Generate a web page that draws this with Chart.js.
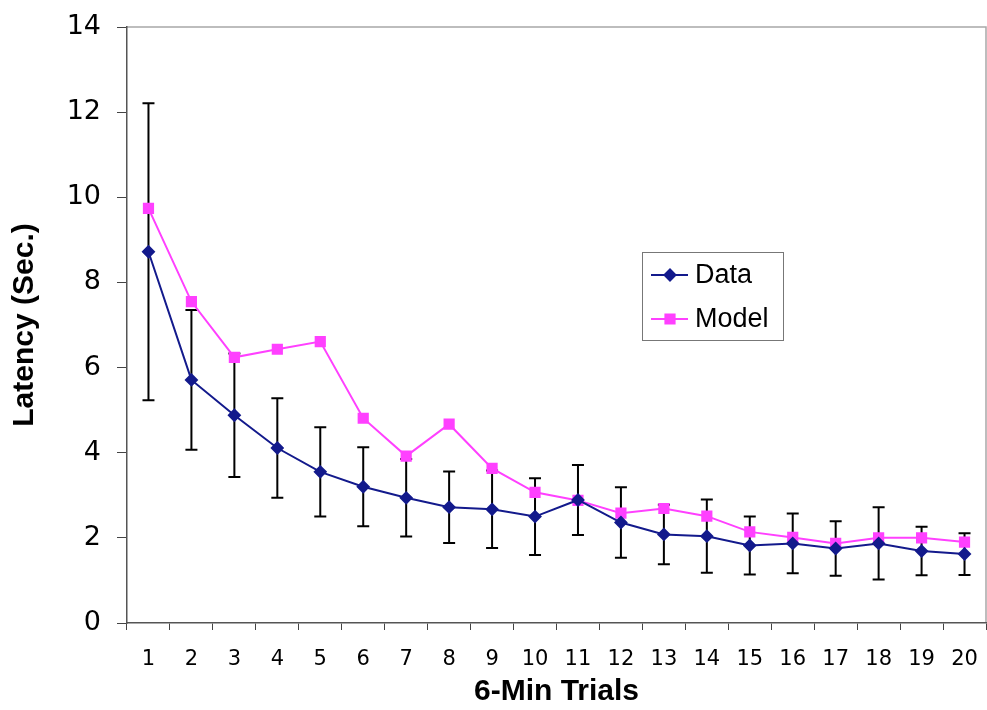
<!DOCTYPE html>
<html>
<head>
<meta charset="utf-8">
<script src="https://cdn.jsdelivr.net/npm/chart.js@4.4.1/dist/chart.umd.min.js"></script>
<style>
  html, body { margin: 0; padding: 0; background: #fff; }
  #wrap { position: relative; width: 987px; height: 710px; }
</style>
</head>
<body>
<div id="wrap"><canvas id="c" width="987" height="710"></canvas></div>
<script>
// ---- data ----
const trials = ['1','2','3','4','5','6','7','8','9','10','11','12','13','14','15','16','17','18','19','20'];
const dataValues  = [8.72, 5.71, 4.88, 4.11, 3.55, 3.20, 2.94, 2.72, 2.67, 2.50, 2.89, 2.36, 2.08, 2.04, 1.82, 1.87, 1.75, 1.87, 1.69, 1.62];
const dataErrors  = [3.49, 1.64, 1.45, 1.17, 1.05, 0.93, 0.91, 0.84, 0.91, 0.90, 0.82, 0.83, 0.70, 0.86, 0.68, 0.70, 0.64, 0.85, 0.57, 0.49];
const modelValues = [9.74, 7.55, 6.24, 6.43, 6.61, 4.81, 3.92, 4.67, 3.63, 3.07, 2.88, 2.58, 2.69, 2.51, 2.14, 2.01, 1.87, 2.00, 2.00, 1.90];
const yTicks = [0, 2, 4, 6, 8, 10, 12, 14];

const errorBarPlugin = {
  id: 'errorBars',
  beforeDatasetsDraw(chart) {
    const ctx = chart.ctx;
    const xs = chart.scales.x, ys = chart.scales.y;
    ctx.save();
    ctx.strokeStyle = '#000';
    ctx.lineWidth = 2;
    dataValues.forEach((v, i) => {
      const x = xs.getPixelForValue(i);
      const yTop = ys.getPixelForValue(v + dataErrors[i]);
      const yBot = ys.getPixelForValue(v - dataErrors[i]);
      ctx.beginPath();
      ctx.moveTo(x, yTop); ctx.lineTo(x, yBot);
      ctx.moveTo(x - 6, yTop); ctx.lineTo(x + 6, yTop);
      ctx.moveTo(x - 6, yBot); ctx.lineTo(x + 6, yBot);
      ctx.stroke();
    });
    ctx.restore();
  }
};

const frameAndLegendPlugin = {
  id: 'frameLegend',
  beforeDraw(chart) {
    const a = chart.chartArea, ctx = chart.ctx;
    ctx.save();
    ctx.strokeStyle = '#a8a8a8';
    ctx.lineWidth = 1.5;
    ctx.beginPath();
    ctx.moveTo(a.left, a.top);
    ctx.lineTo(a.right, a.top);
    ctx.lineTo(a.right, a.bottom);
    ctx.stroke();
    ctx.restore();
  },
  afterDraw(chart) {
    const ctx = chart.ctx;
    const bx = 642, by = 252, bw = 141, bh = 88;
    ctx.save();
    ctx.fillStyle = '#fff';
    ctx.fillRect(bx, by, bw, bh);
    ctx.strokeStyle = '#777';
    ctx.lineWidth = 1;
    ctx.strokeRect(bx + 0.5, by + 0.5, bw, bh);
    ctx.font = '27px "Liberation Sans", Arial, sans-serif';
    ctx.textBaseline = 'middle';
    chart.data.datasets.forEach((ds, i) => {
      const cy = by + 23 + i * 44;
      ctx.strokeStyle = ds.borderColor;
      ctx.lineWidth = 2;
      ctx.beginPath();
      ctx.moveTo(bx + 9, cy); ctx.lineTo(bx + 46, cy);
      ctx.stroke();
      ctx.fillStyle = ds.backgroundColor;
      ctx.strokeStyle = ds.borderColor;
      Chart.helpers.drawPoint(ctx, { pointStyle: ds.pointStyle, radius: ds.pointRadius, borderWidth: 1 }, bx + 28, cy);
      ctx.fillStyle = '#000';
      ctx.fillText(ds.label, bx + 53, cy + 1);
    });
    ctx.restore();
  }
};

new Chart(document.getElementById('c'), {
  type: 'line',
  data: {
    labels: trials,
    datasets: [
      {
        label: 'Data',
        data: dataValues,
        borderColor: '#131a8c',
        backgroundColor: '#131a8c',
        borderWidth: 2,
        pointStyle: 'rectRot',
        pointRadius: 5.5,
        pointHoverRadius: 5.5,
        tension: 0
      },
      {
        label: 'Model',
        data: modelValues,
        borderColor: '#ff40ff',
        backgroundColor: '#ff40ff',
        borderWidth: 2,
        pointStyle: 'rect',
        pointRadius: 6.5,
        pointHoverRadius: 6.5,
        tension: 0
      }
    ]
  },
  options: {
    responsive: false,
    animation: false,
    layout: { autoPadding: false, padding: { top: 27, right: 1, left: 0, bottom: 0 } },
    plugins: {
      legend: { display: false },
      tooltip: { enabled: false }
    },
    scales: {
      x: {
        offset: true,
        grid: { offset: true, drawOnChartArea: false, tickLength: 7, color: '#444', lineWidth: 1 },
        border: { color: '#555', width: 1.5 },
        ticks: { color: '#000', padding: 17, font: { family: '"DejaVu Sans", Verdana, sans-serif', size: 21 }, maxRotation: 0, autoSkip: false },
        title: { display: true, text: '6-Min Trials', color: '#000', padding: { top: 0, bottom: 0 },
                 font: { family: '"Liberation Sans", Arial, sans-serif', size: 30, weight: 'bold' } },
        afterFit(s) { s.height = 87; s.paddingLeft = 0; s.paddingRight = 0; }
      },
      y: {
        min: 0, max: 14,
        afterBuildTicks(s) { s.ticks = yTicks.map(v => ({ value: v })); },
        grid: { drawOnChartArea: false, tickLength: 10, color: '#444', lineWidth: 1 },
        border: { color: '#555', width: 1.5 },
        ticks: { color: '#000', padding: 16, font: { family: '"DejaVu Sans", Verdana, sans-serif', size: 27 } },
        title: { display: true, text: 'Latency (Sec.)', color: '#000', padding: { top: 7, bottom: 0 },
                 font: { family: '"Liberation Sans", Arial, sans-serif', size: 30, weight: 'bold' } },
        afterFit(s) { s.width = 127; s.paddingTop = 0; s.paddingBottom = 0; }
      }
    }
  },
  plugins: [errorBarPlugin, frameAndLegendPlugin]
});
</script>
</body>
</html>
